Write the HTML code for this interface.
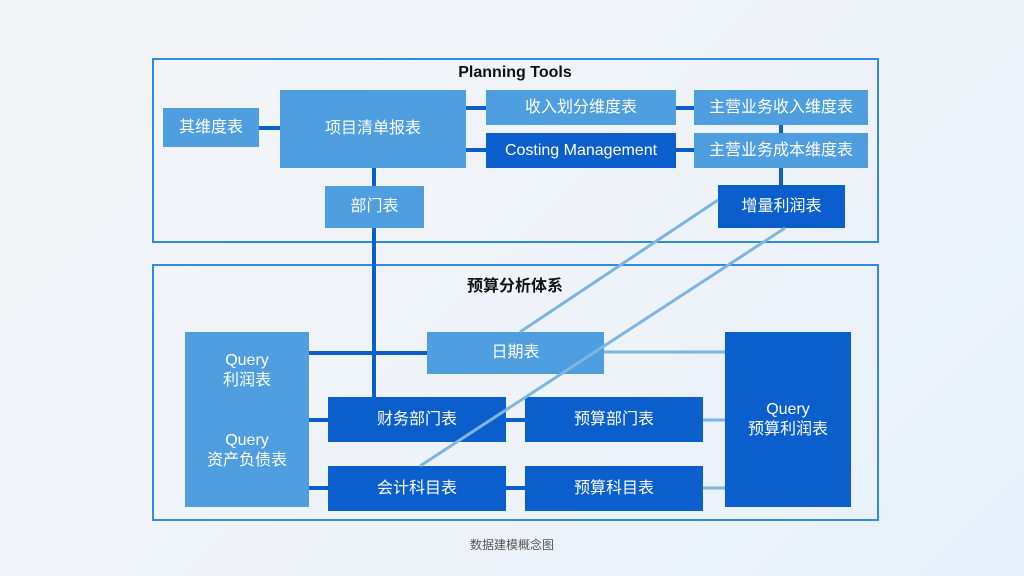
<!DOCTYPE html>
<html><head><meta charset="utf-8"><style>
body{margin:0;width:1024px;height:576px;overflow:hidden;background:linear-gradient(135deg,#f3f5f8 0%,#eef3f9 60%,#e6f0fa 100%);font-family:"Liberation Sans","Noto Sans CJK SC",sans-serif;position:relative}
.f{position:absolute;border:2px solid #2e8ae3;box-sizing:border-box}
.b{position:absolute;display:flex;align-items:center;justify-content:center;text-align:center;color:#fff;font-size:16px;line-height:20px}
.l{background:#4f9ee0}.d{background:#0b5fcc}
.t{position:absolute;font-weight:bold;font-size:16px;color:#111;text-align:center}
.q{position:absolute;color:#fff;font-size:16px;line-height:20px;text-align:center}
svg{position:absolute;left:0;top:0}
</style></head><body>
<div class="f" style="left:152px;top:58px;width:727px;height:185px"></div>
<div class="f" style="left:152px;top:264px;width:727px;height:257px"></div>
<div class="t" style="left:415px;top:64px;width:200px">Planning Tools</div>
<div class="t" style="left:415px;top:272px;width:200px">预算分析体系</div>
<svg width="1024" height="576">
<g stroke="#0b5fcc" stroke-width="4">
<line x1="259" y1="128" x2="280" y2="128"/>
<line x1="466" y1="108" x2="486" y2="108"/>
<line x1="466" y1="150" x2="486" y2="150"/>
<line x1="676" y1="108" x2="694" y2="108"/>
<line x1="676" y1="150" x2="694" y2="150"/>
<line x1="781" y1="125" x2="781" y2="133"/>
<line x1="781" y1="168" x2="781" y2="185"/>
<line x1="374" y1="168" x2="374" y2="397"/>
<line x1="309" y1="353" x2="427" y2="353"/>
<line x1="309" y1="420" x2="328" y2="420"/>
<line x1="309" y1="488" x2="328" y2="488"/>
<line x1="506" y1="420" x2="525" y2="420"/>
<line x1="506" y1="488" x2="525" y2="488"/>
</g>
<g stroke="#7db6e3" stroke-width="3">
<line x1="604" y1="352" x2="725" y2="352"/>
<line x1="703" y1="420" x2="725" y2="420"/>
<line x1="703" y1="488" x2="725" y2="488"/>
</g>
</svg>
<div class="b l" style="left:163px;top:108px;width:96px;height:39px">其维度表</div>
<div class="b l" style="left:280px;top:90px;width:186px;height:78px">项目清单报表</div>
<div class="b l" style="left:486px;top:90px;width:190px;height:35px">收入划分维度表</div>
<div class="b d" style="left:486px;top:133px;width:190px;height:35px">Costing Management</div>
<div class="b l" style="left:694px;top:90px;width:174px;height:35px">主营业务收入维度表</div>
<div class="b l" style="left:694px;top:133px;width:174px;height:35px">主营业务成本维度表</div>
<div class="b l" style="left:325px;top:186px;width:99px;height:42px">部门表</div>
<div class="b d" style="left:718px;top:185px;width:127px;height:43px">增量利润表</div>
<div class="b l" style="left:185px;top:332px;width:124px;height:175px"></div>
<div class="q" style="left:185px;top:351px;width:124px">Query<br>利润表</div>
<div class="q" style="left:185px;top:431px;width:124px">Query<br>资产负债表</div>
<div class="b l" style="left:427px;top:332px;width:177px;height:42px">日期表</div>
<div class="b d" style="left:328px;top:397px;width:178px;height:45px">财务部门表</div>
<div class="b d" style="left:525px;top:397px;width:178px;height:45px">预算部门表</div>
<div class="b d" style="left:328px;top:466px;width:178px;height:45px">会计科目表</div>
<div class="b d" style="left:525px;top:466px;width:178px;height:45px">预算科目表</div>
<div class="b d" style="left:725px;top:332px;width:126px;height:175px">Query<br>预算利润表</div>
<svg width="1024" height="576">
<g stroke="#7db6e3" stroke-width="3">
<line x1="718" y1="200" x2="520" y2="332"/>
<line x1="785" y1="228" x2="420" y2="466"/>
</g>
</svg>
<div style="position:absolute;left:412px;top:536px;width:200px;text-align:center;font-size:12px;color:#555">数据建模概念图</div>
</body></html>
